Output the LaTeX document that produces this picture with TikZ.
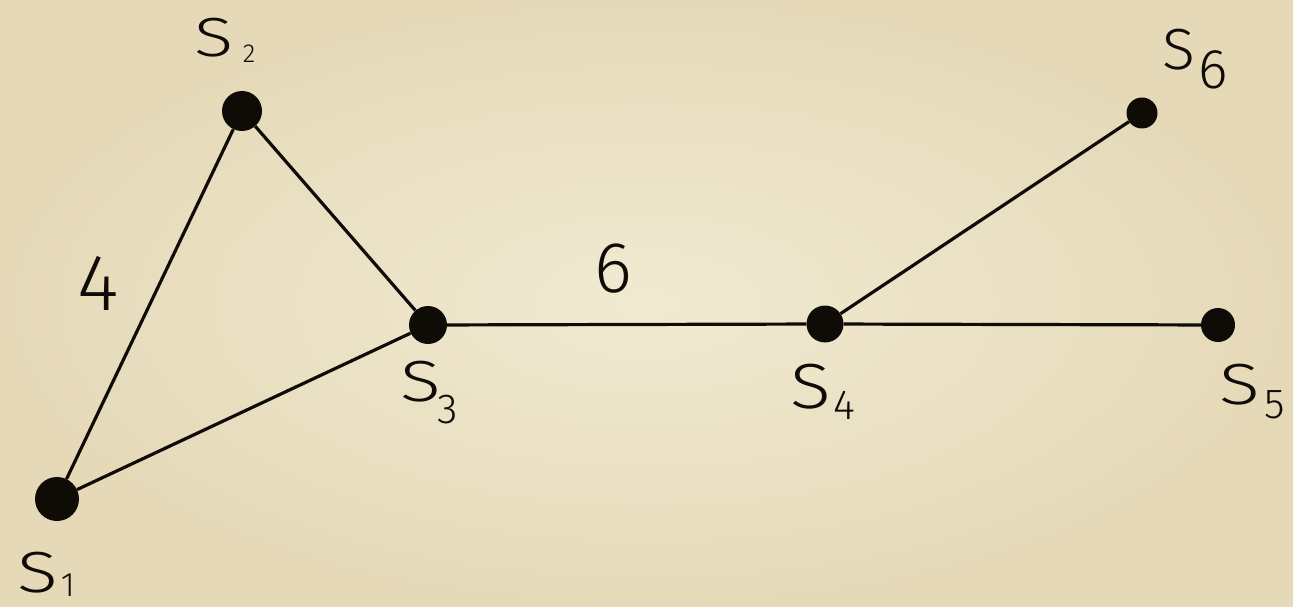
\documentclass[tikz,border=0pt]{standalone}
\usepackage{fontspec}
\setmainfont{Fira Sans Light}
\definecolor{paperlight}{RGB}{241,234,210}
\definecolor{paperdark}{RGB}{229,217,184}
\definecolor{ink}{RGB}{15,12,8}
\tikzset{
  vtx/.style={circle, fill=ink, inner sep=0pt, minimum size=#1},
  edge/.style={draw=ink, line width=3.2pt},
  slbl/.style={inner sep=0pt, text=ink, font=\fontsize{58}{58}\selectfont},
  sub/.style={inner sep=0pt, text=ink, font=\fontsize{#1}{#1}\selectfont},
  wlbl/.style={inner sep=0pt, text=ink, font=\fontsize{#1}{#1}\selectfont},
}
\begin{document}
\begin{tikzpicture}[x=1pt,y=-1pt]
\useasboundingbox (0,0) rectangle (1293,607);
\shade[inner color=paperlight, outer color=paperdark] (0,0) rectangle (1293,607);

\node[vtx=44pt] (s1) at (57,499) {};
\node[vtx=40pt] (s2) at (242,111) {};
\node[vtx=38pt] (s3) at (428,325) {};
\node[vtx=37pt] (s4) at (825,324) {};
\node[vtx=34pt] (s5) at (1218,325) {};
\node[vtx=31pt] (s6) at (1142,113) {};

\draw[edge] (s1) -- (s2);
\draw[edge] (s2) -- (s3);
\draw[edge] (s1) -- (s3);
\draw[edge] (s3) -- (s4);
\draw[edge] (s4) -- (s5);
\draw[edge] (s4) -- (s6);

\node[slbl] (l1) at (38,573) {\scalebox{1.3}[1]{S}};
\node[sub=34] (l1s) at (68,585) {1};
\node[slbl] (l2) at (214,38) {\scalebox{1.25}[0.95]{S}};
\node[sub=26] (l2s) at (249,54) {2};
\node[slbl] (l3) at (421,382) {\scalebox{1.3}[1]{S}};
\node[sub=42] (l3s) at (448,410) {3};
\node[slbl] (l4) at (811,387) {\scalebox{1.3}[1.1]{S}};
\node[sub=42] (l4s) at (844,405) {4};
\node[slbl] (l5) at (1240,385) {\scalebox{1.3}[1]{S}};
\node[sub=42] (l5s) at (1275,405) {5};
\node[slbl] (l6) at (1179,50) {\scalebox{1.05}[1]{S}};
\node[sub=56] (l6s) at (1213,70) {6};

\node[wlbl=80] (w4) at (98,283) {4};
\node[wlbl=72] (w6) at (613,269) {6};
\end{tikzpicture}
\end{document}
